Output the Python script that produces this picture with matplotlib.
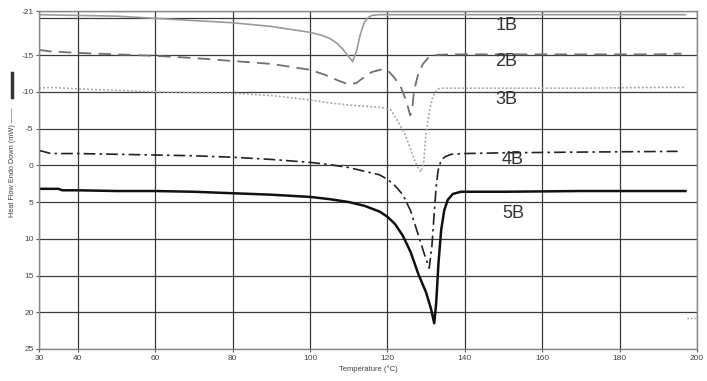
import matplotlib
matplotlib.use("Agg")
import matplotlib.pyplot as plt
from matplotlib.lines import Line2D

plt.rcParams['font.family'] = ['Liberation Sans', 'DejaVu Sans']

# ---- data ----
x_1B = [30, 40, 50, 60, 70, 80, 90, 95, 100, 103, 105, 107, 108.5, 110, 111, 112, 113, 114, 115, 116, 118, 130, 150, 170, 190, 197]
y_1B = [-20.5, -20.4, -20.3, -20.0, -19.7, -19.4, -18.9, -18.5, -18.1, -17.7, -17.3, -16.6, -15.8, -14.8, -14.1, -15.5, -17.8, -19.4, -20.1, -20.4, -20.5, -20.5, -20.5, -20.5, -20.5, -20.5]

x_2B = [30, 33, 40, 50, 60, 70, 80, 90, 95, 100, 104, 107, 110, 112, 114, 116, 118.9, 120.5, 122, 123.5, 124.8, 125.9, 126.4, 126.9, 128, 129.2, 130.5, 132, 136, 150, 170, 190, 196]
y_2B = [-15.7, -15.5, -15.3, -15.1, -14.9, -14.6, -14.2, -13.8, -13.4, -13.0, -12.3, -11.6, -11.0, -11.2, -12.0, -12.7, -13.1, -12.7, -11.8, -10.6, -8.9, -6.8, -7.6, -10.2, -12.5, -13.8, -14.6, -15.0, -15.1, -15.1, -15.1, -15.1, -15.2]

x_3B = [30, 33, 40, 50, 60, 70, 80, 90, 100, 105, 110, 115, 118.3, 121, 122.7, 124.4, 125.8, 127, 128, 128.7, 129.4, 130, 130.9, 131.7, 133, 134, 136, 150, 170, 190, 197]
y_3B = [-10.5, -10.6, -10.4, -10.2, -10.0, -9.9, -9.8, -9.5, -8.9, -8.5, -8.2, -8.0, -7.9, -7.5, -6.0, -4.4, -2.5, -0.7, 0.4, 0.9, -0.5, -4.4, -7.5, -9.3, -10.4, -10.5, -10.5, -10.5, -10.5, -10.6, -10.6]

x_4B = [30, 31, 33, 40, 50, 60, 70, 80, 90, 100, 105, 110, 114, 118, 120, 122, 124, 126, 128, 129.5, 130.8, 131.5, 132.1, 132.6, 133.1, 133.9, 135, 136.5, 140, 150, 170, 195]
y_4B = [-2.0, -1.9, -1.6, -1.6, -1.5, -1.4, -1.3, -1.1, -0.8, -0.4, -0.1, 0.3, 0.8, 1.3, 1.9, 2.8, 4.0, 6.2, 9.5, 12.0, 14.0, 11.0, 6.5, 3.0, 0.7, -0.7, -1.2, -1.5, -1.6, -1.7, -1.8, -1.9]

x_5B = [30, 35, 36, 40, 50, 60, 70, 80, 90, 100, 105, 110, 114, 118, 120, 122, 124, 126, 128, 130, 131.3, 132.1, 132.6, 133.2, 133.9, 134.7, 135.6, 136.9, 139, 150, 170, 197]
y_5B = [3.2, 3.2, 3.4, 3.4, 3.5, 3.5, 3.6, 3.8, 4.0, 4.3, 4.6, 5.0, 5.5, 6.3, 7.0, 8.0, 9.6, 11.8, 14.8, 17.3, 19.6, 21.5, 18.8, 13.3, 8.8, 6.1, 4.7, 3.9, 3.6, 3.6, 3.5, 3.5]

x_mark = [197.5, 199.5]
y_mark = [20.8, 20.8]

labels = ["1B", "2B", "3B", "4B", "5B"]
label_x = [150.7, 150.7, 150.7, 152.3, 152.5]
label_y = [-19.0, -14.1, -9.0, -0.8, 6.5]

xticks = [30, 40, 60, 80, 100, 120, 140, 160, 180, 200]
yticks = [-21, -15, -10, -5, 0, 5, 10, 15, 20, 25]

# ---- figure ----
fig = plt.figure(figsize=(7.07, 3.81), dpi=100)
ax = fig.add_axes([0.0552, 0.0840, 0.9307, 0.8871])
fig.patch.set_facecolor('white')

ax.set_xlim(30, 200)
ax.set_ylim(25, -21)
ax.set_xticks(xticks)
ax.set_yticks(yticks)
ax.set_xticklabels([str(v) for v in xticks], fontsize=6, color='#444444')
ax.set_yticklabels([str(v) for v in yticks], fontsize=6, color='#444444')
ax.tick_params(direction='out', length=2, width=0.8, color='#555555', pad=2)

ax.grid(True, color='#3a3a3a', linewidth=0.9)
ax.axhline(-20, color='#3a3a3a', linewidth=0.9, zorder=0.9)
ax.set_axisbelow(True)
for s in ax.spines.values():
    s.set_color('#888888')
    s.set_linewidth(1.0)

ax.plot(x_1B, y_1B, color='#9a9a9a', linewidth=1.2, linestyle='-')
ax.plot(x_2B, y_2B, color='#707070', linewidth=1.3, linestyle=(0, (7, 4)))
ax.plot(x_3B, y_3B, color='#a8a8a8', linewidth=1.2, linestyle=(0, (1.2, 1.2)))
ax.plot(x_4B, y_4B, color='#222222', linewidth=1.2, linestyle=(0, (7, 2.5, 1.5, 2.5)))
ax.plot(x_5B, y_5B, color='#111111', linewidth=1.8, linestyle='-')
ax.plot(x_mark, y_mark, color='#888888', linewidth=1.0, linestyle=(0, (1, 1.5)))

for t, lx, ly in zip(labels, label_x, label_y):
    ax.text(lx, ly, t, fontsize=13, color='#333333', ha='center', va='center')

ax.set_xlabel("Temperature (°C)", fontsize=5.5, color='#444444', labelpad=3)

# y label with line sample
fig.text(0.017, 0.575, "Heat Flow Endo Down (mW) ——", rotation=90,
         fontsize=5.3, color='#444444', ha='center', va='center')
fig.add_artist(Line2D([0.017, 0.017], [1 - 97/381, 1 - 73/381],
                      transform=fig.transFigure, color='#333333', linewidth=2.5))

fig.savefig("out.png", dpi=100)
